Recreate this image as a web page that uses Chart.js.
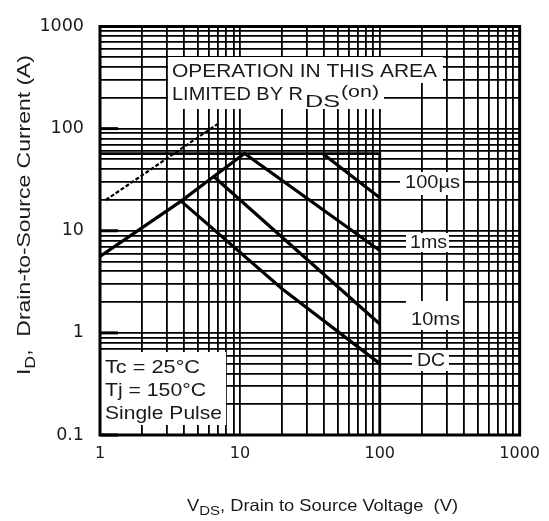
<!DOCTYPE html>
<html><head><meta charset="utf-8">
<script src="https://cdn.jsdelivr.net/npm/chart.js@4.4.0/dist/chart.umd.min.js"></script>
<style>html,body{margin:0;padding:0;background:#fff;overflow:hidden}#wrap{width:549px;height:521px;position:relative}</style>
</head><body><div id="wrap"><canvas id="c" width="549" height="521"></canvas></div>
<script>
// ---- axis ticks ----
const xMajorTicks = [1, 10, 100, 1000];
const xTickLabels = ['1', '10', '100', '1000'];
const yMajorTicks = [0.1, 1, 10, 100, 1000];
const yTickLabels = ['0.1', '1', '10', '100', '1000'];
const minorSteps = [1, 2, 3, 4, 5, 6, 7, 8, 9];

// ---- series (VDS in V, ID in A) ----
const rdsV = [1.1, 7.2];          // RDS(on) limit (dashed)
const rdsI = [20, 115];
const limitV = [1, 100, 100];     // current / voltage limit box
const limitI = [57, 57, 0.1];
const us100V = [39, 100];         // 100 µs
const us100I = [57, 21];
const ms1V = [1, 3.8, 6.5, 10.8, 100];   // 1 ms (incl. rising envelope)
const ms1I = [5.6, 19.5, 34, 57, 6.4];
const ms10V = [6.5, 100];         // 10 ms
const ms10I = [34, 1.22];
const dcV = [3.8, 20, 100];       // DC
const dcI = [19.5, 2.7, 0.5];

function allTicks(majors){
  const out = [];
  for (let i = 0; i < majors.length - 1; i++) minorSteps.forEach(m => out.push(+(m * majors[i]).toPrecision(6)));
  out.push(majors[majors.length - 1]);
  return out;
}
const xAll = allTicks(xMajorTicks), yAll = allTicks(yMajorTicks);
function pts(xs, ys){ return xs.map((x, i) => ({x: x, y: ys[i]})); }
const base = {showLine: true, pointRadius: 0, borderColor: '#000', borderWidth: 3.2, fill: false, tension: 0, borderJoinStyle: 'miter'};

function drawRich(ctx, segs, x, y, target, rot){
  ctx.save();
  ctx.translate(x, y);
  if (rot) ctx.rotate(rot);
  let total = 0;
  segs.forEach(s => { ctx.font = s.size + 'px "Liberation Sans", Arial, sans-serif'; total += ctx.measureText(s.t).width; });
  const sx = target / total;
  ctx.scale(sx, 1);
  let cx = 0;
  ctx.textBaseline = 'alphabetic'; ctx.textAlign = 'left'; ctx.fillStyle = '#1a1a1a';
  segs.forEach(s => { ctx.font = s.size + 'px "Liberation Sans", Arial, sans-serif'; ctx.fillText(s.t, cx, s.dy || 0); cx += ctx.measureText(s.t).width; });
  ctx.restore();
}
function box(ctx, x0, y0, x1, y1){ ctx.fillStyle = '#fff'; ctx.fillRect(x0, y0, x1 - x0, y1 - y0); }

const overlay = {
  id: 'overlay',
  afterDatasetsDraw(chart){
    const ctx = chart.ctx, a = chart.chartArea, ys = chart.scales.y;
    ctx.save();
    // white label boxes
    box(ctx, 168, 57, 443, 83);
    box(ctx, 168, 83, 384, 109);
    box(ctx, 400, 172, 463, 195);
    box(ctx, 406, 233, 449, 252);
    box(ctx, 406, 301, 463, 330);
    box(ctx, 412, 350, 449, 371);
    box(ctx, 101, 352, 226, 425);
    // annotations
    drawRich(ctx, [{t: 'OPERATION IN THIS AREA', size: 18.5}], 172, 77, 265);
    drawRich(ctx, [{t: 'LIMITED BY R', size: 18.5}], 172, 100, 131);
    drawRich(ctx, [{t: 'DS', size: 17}], 305, 107, 35);
    drawRich(ctx, [{t: '(on)', size: 16}], 341, 97, 38);
    drawRich(ctx, [{t: '100µs', size: 18}], 405, 188, 55);
    drawRich(ctx, [{t: '1ms', size: 18}], 410, 248, 37);
    drawRich(ctx, [{t: '10ms', size: 18}], 411, 325, 49);
    drawRich(ctx, [{t: 'DC', size: 18}], 417, 366, 28);
    drawRich(ctx, [{t: 'Tc = 25°C', size: 19}], 105, 373, 95);
    drawRich(ctx, [{t: 'Tj = 150°C', size: 19}], 105, 396, 101);
    drawRich(ctx, [{t: 'Single Pulse', size: 19}], 105, 419, 117);
    // frame
    ctx.strokeStyle = '#000'; ctx.lineWidth = 3;
    ctx.strokeRect(a.left, a.top, a.right - a.left, a.bottom - a.top);
    // short thick marks at decades on the left
    yMajorTicks.forEach(v => {
      const y = ys.getPixelForValue(v);
      ctx.beginPath(); ctx.moveTo(a.left, y); ctx.lineTo(a.left + 18, y); ctx.lineWidth = 3; ctx.stroke();
    });
    // axis titles
    drawRich(ctx, [{t: 'V', size: 16.5}, {t: 'DS', size: 13.5, dy: 4}, {t: ', Drain to Source Voltage  (V)', size: 16.5}], 187, 511, 271);
    drawRich(ctx, [{t: 'I', size: 18}, {t: 'D', size: 14, dy: 5}, {t: ',  Drain-to-Source Current (A)', size: 18}], 30, 375, 320, -Math.PI / 2);
    ctx.restore();
  }
};

new Chart(document.getElementById('c'), {
  type: 'scatter',
  data: {
    datasets: [
      Object.assign({}, base, {label: 'RDS(on) limit', data: pts(rdsV, rdsI), borderWidth: 2.2, borderDash: [4, 2]}),
      Object.assign({}, base, {label: 'Limit', data: pts(limitV, limitI), borderWidth: 2.8}),
      Object.assign({}, base, {label: '100µs', data: pts(us100V, us100I)}),
      Object.assign({}, base, {label: '1ms', data: pts(ms1V, ms1I)}),
      Object.assign({}, base, {label: '10ms', data: pts(ms10V, ms10I)}),
      Object.assign({}, base, {label: 'DC', data: pts(dcV, dcI)})
    ]
  },
  options: {
    responsive: false, animation: false, devicePixelRatio: 1,
    layout: {padding: {left: 0, top: 11, right: 26, bottom: 0}},
    plugins: {legend: {display: false}, tooltip: {enabled: false}},
    scales: {
      x: {
        type: 'logarithmic', min: 1, max: 1000, position: 'bottom',
        afterBuildTicks: s => { s.ticks = xAll.map(v => ({value: v, major: xMajorTicks.includes(v)})); },
        afterFit: s => { s.height = 86; },
        grid: {color: '#000', lineWidth: 1.8, drawTicks: false},
        border: {display: false},
        ticks: {autoSkip: false, maxRotation: 0, padding: 9, color: '#1a1a1a',
          font: {family: '"DejaVu Sans", sans-serif', size: 16},
          callback: v => { const i = xMajorTicks.indexOf(v); return i >= 0 ? xTickLabels[i] : ''; }}
      },
      y: {
        type: 'logarithmic', min: 0.1, max: 1000, position: 'left',
        afterBuildTicks: s => { s.ticks = yAll.map(v => ({value: v, major: yMajorTicks.includes(v)})); },
        afterFit: s => { s.width = 100; },
        grid: {color: '#000', lineWidth: 1.8, drawTicks: false},
        border: {display: false},
        ticks: {autoSkip: false, padding: 16, color: '#1a1a1a',
          font: {family: '"DejaVu Sans", sans-serif', size: 17.5},
          callback: v => { const i = yMajorTicks.indexOf(v); return i >= 0 ? yTickLabels[i] : ''; }}
      }
    }
  },
  plugins: [overlay]
});
</script>
</body></html>
